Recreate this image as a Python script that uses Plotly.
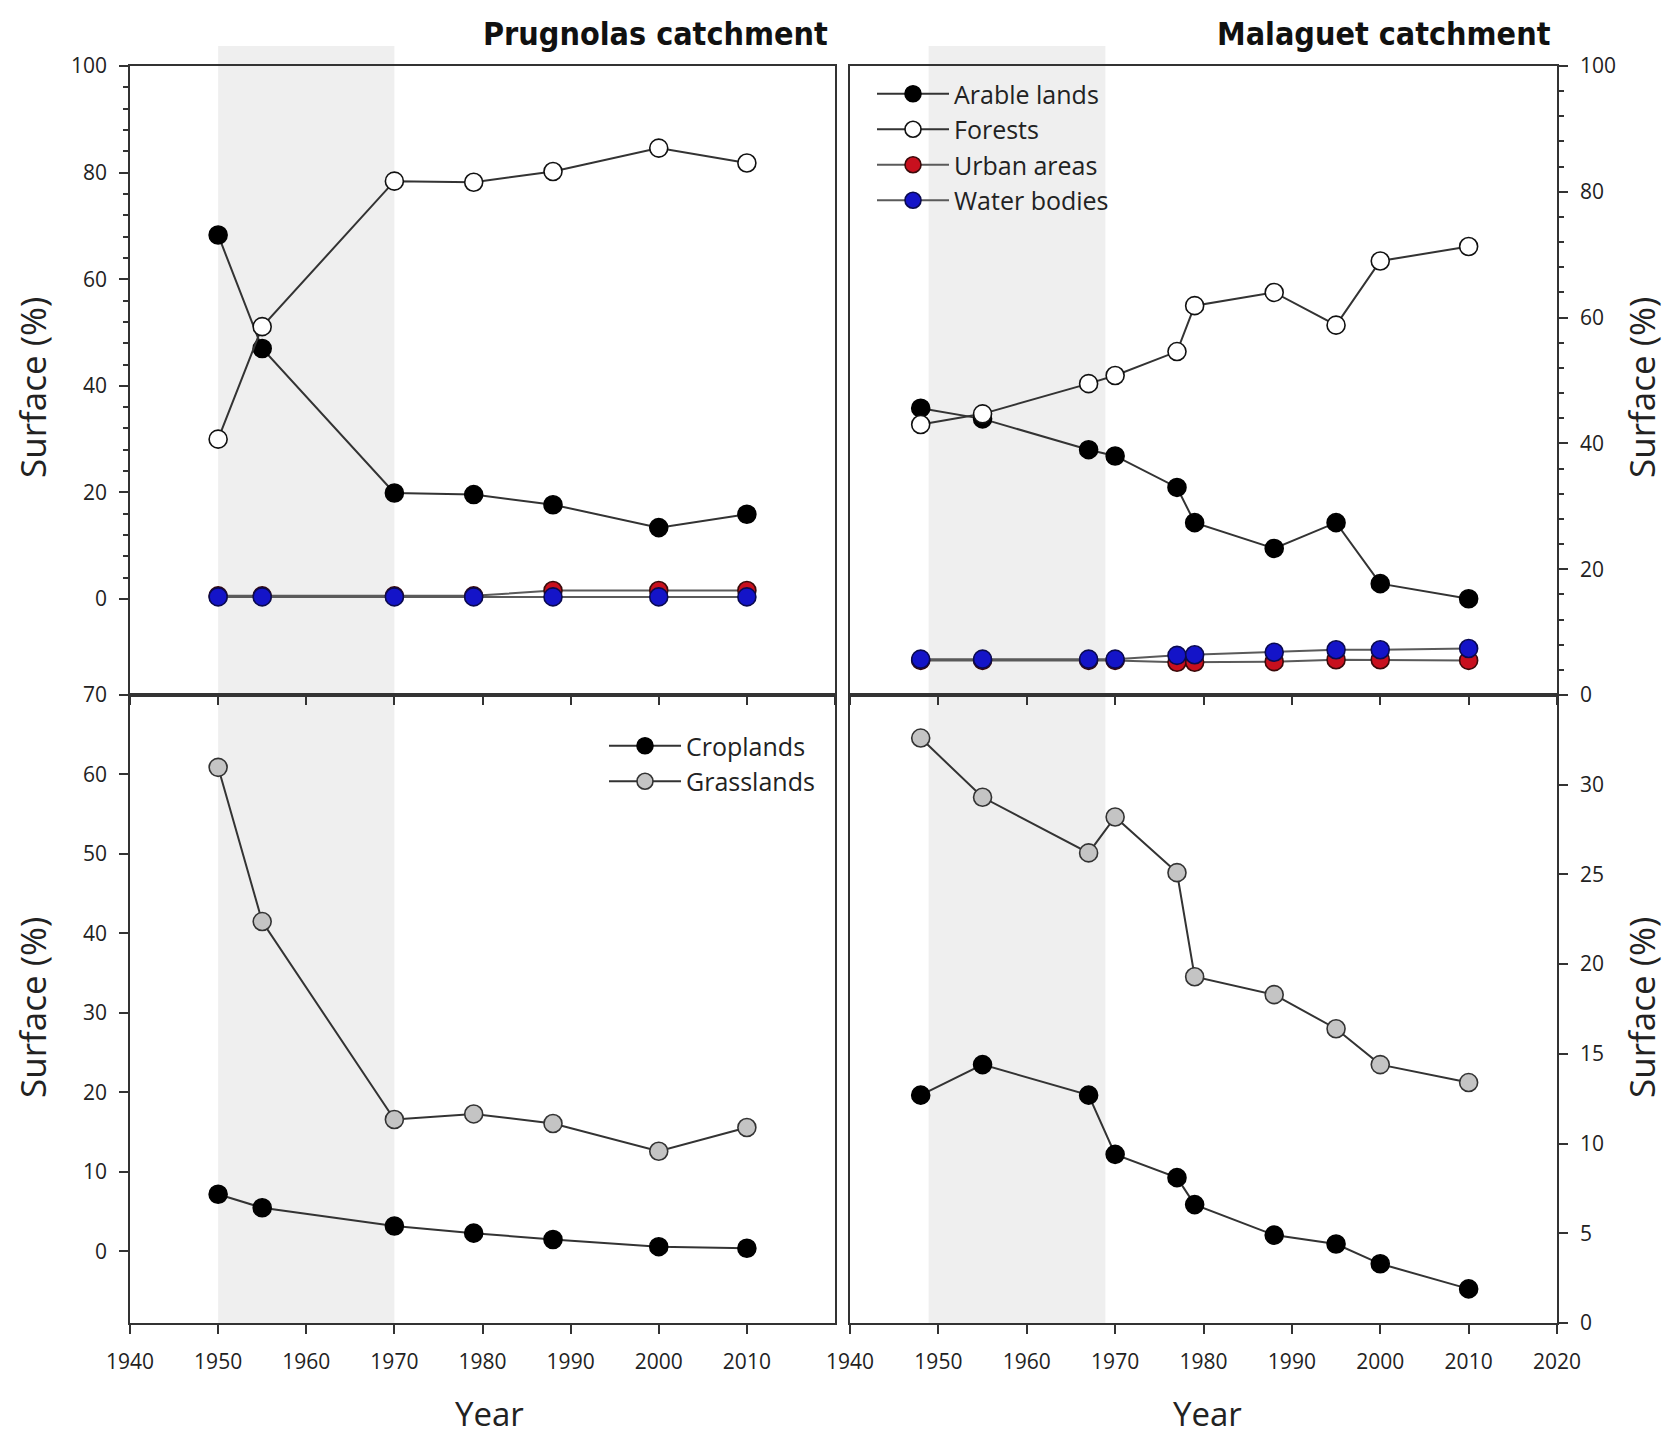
import plotly.graph_objects as go

# ---------------- data ----------------
years_p = [1950, 1955, 1970, 1979, 1988, 2000, 2010]
arable_p = [68.3, 47.0, 19.9, 19.6, 17.7, 13.4, 15.9]
forest_p = [30.0, 51.1, 78.4, 78.2, 80.2, 84.6, 81.8]
urban_p = [0.6, 0.6, 0.6, 0.6, 1.6, 1.6, 1.6]
water_p = [0.4, 0.4, 0.4, 0.4, 0.4, 0.4, 0.4]
crop_p = [7.2, 5.5, 3.2, 2.3, 1.5, 0.6, 0.4]
grass_p = [60.9, 41.5, 16.6, 17.3, 16.1, 12.6, 15.6]

years_m = [1948, 1955, 1967, 1970, 1977, 1979, 1988, 1995, 2000, 2010]
arable_m = [45.6, 43.9, 39.0, 38.0, 33.0, 27.4, 23.3, 27.4, 17.7, 15.3]
forest_m = [43.0, 44.7, 49.5, 50.8, 54.6, 61.9, 64.0, 58.8, 69.0, 71.3]
urban_m = [5.5, 5.5, 5.5, 5.5, 5.2, 5.2, 5.3, 5.6, 5.6, 5.5]
water_m = [5.7, 5.7, 5.7, 5.7, 6.3, 6.4, 6.8, 7.2, 7.2, 7.4]
crop_m = [12.7, 14.4, 12.7, 9.4, 8.1, 6.6, 4.9, 4.4, 3.3, 1.9]
grass_m = [32.6, 29.3, 26.2, 28.2, 25.1, 19.3, 18.3, 16.4, 14.4, 13.4]

x_ticks = [1940, 1950, 1960, 1970, 1980, 1990, 2000, 2010, 2020]
top_ticks = [0, 20, 40, 60, 80, 100]
minor_top = list(range(0, 101, 4))
bl_ticks = [0, 10, 20, 30, 40, 50, 60, 70]
br_ticks = [0, 5, 10, 15, 20, 25, 30]
shade_p = (1950, 1970)
shade_m = (1948.9, 1968.9)

# ---------------- layout geometry ----------------
W, H = 1671, 1444
XL = [130 / W, 835 / W]
XR = [850 / W, 1557 / W]
YT = [1 - 695 / H, 1 - 66 / H]
YB = [1 - 1323 / H, 1 - 695 / H]

FONT = "Open Sans, Noto Sans, DejaVu Sans, sans-serif"
TFONT = "DejaVu Sans Condensed, Liberation Sans Narrow, sans-serif"
LINE = "#333333"

fig = go.Figure()


def add(x, y, xa, ya, name, fill, outline, legend=None, show=False, lc=LINE):
    fig.add_trace(go.Scatter(
        x=x, y=y, mode="lines+markers", name=name,
        line=dict(color=lc, width=2),
        marker=dict(size=18, color=fill, line=dict(color=outline, width=1.6)),
        xaxis=xa, yaxis=ya, showlegend=show,
        legend=legend if legend else "legend",
        hoverinfo="x+y+name",
    ))


# top-left
add(years_p, arable_p, "x", "y", "Arable lands", "#000000", "#000000")
add(years_p, forest_p, "x", "y", "Forests", "#ffffff", "#111111")
add(years_p, urban_p, "x", "y", "Urban areas", "#c8101e", "#3a0a0a", lc="#5a5a5a")
add(years_p, water_p, "x", "y", "Water bodies", "#1414c8", "#0a0a50", lc="#5a5a5a")
# top-right (legend)
add(years_m, arable_m, "x2", "y2", "Arable lands", "#000000", "#000000", "legend", True)
add(years_m, forest_m, "x2", "y2", "Forests", "#ffffff", "#111111", "legend", True)
add(years_m, urban_m, "x2", "y2", "Urban areas", "#c8101e", "#3a0a0a", "legend", True, lc="#5a5a5a")
add(years_m, water_m, "x2", "y2", "Water bodies", "#1414c8", "#0a0a50", "legend", True, lc="#5a5a5a")
# bottom-left (legend2)
add(years_p, crop_p, "x3", "y3", "Croplands", "#000000", "#000000", "legend2", True)
add(years_p, grass_p, "x3", "y3", "Grasslands", "#c4c4c4", "#333333", "legend2", True)
# bottom-right
add(years_m, crop_m, "x4", "y4", "Croplands", "#000000", "#000000")
add(years_m, grass_m, "x4", "y4", "Grasslands", "#c4c4c4", "#333333")

axis_common = dict(
    showline=True, linecolor="#333333", linewidth=1.5, mirror=True,
    ticks="outside", tickcolor="#333333", tickwidth=1.5, ticklen=9,
    showgrid=False, zeroline=False, automargin=False,
    tickfont=dict(family=FONT, size=21, color="#222222"),
    tickmode="array", fixedrange=True,
)
minor_out = dict(tickmode="array", tickvals=minor_top, ticks="outside",
                 ticklen=5, tickcolor="#333333", tickwidth=1.5)
minor_in = dict(tickmode="array", tickvals=minor_top, ticks="inside",
                ticklen=5, tickcolor="#333333", tickwidth=1.5)

fig.update_layout(
    width=W, height=H,
    margin=dict(l=0, r=0, t=0, b=0, autoexpand=False),
    paper_bgcolor="white", plot_bgcolor="rgba(0,0,0,0)",
    xaxis=dict(axis_common, domain=XL, anchor="y", range=[1940, 2020],
               tickvals=x_ticks, showticklabels=False, ticklen=8),
    yaxis=dict(axis_common, domain=YT, anchor="x", range=[-18, 100],
               tickvals=top_ticks, ticklabelstandoff=8, minor=minor_out),
    yaxis5=dict(overlaying="y", anchor="x", range=[-18, 100], showline=False,
                showgrid=False, zeroline=False, ticks="", showticklabels=False,
                automargin=False, minor=minor_in, fixedrange=True),
    xaxis2=dict(axis_common, domain=XR, anchor="y2", range=[1940, 2020],
                tickvals=x_ticks, showticklabels=False, ticklen=8),
    yaxis2=dict(axis_common, domain=YT, anchor="x2", side="right", range=[0, 100],
                tickvals=top_ticks, ticklabelstandoff=8, minor=minor_out),
    yaxis6=dict(overlaying="y2", anchor="x2", side="right", range=[0, 100],
                showline=False, showgrid=False, zeroline=False, ticks="",
                showticklabels=False, automargin=False, minor=minor_in, fixedrange=True),
    xaxis3=dict(axis_common, domain=XL, anchor="y3", range=[1940, 2020],
                tickvals=x_ticks[:-1], ticklabelstandoff=10),
    yaxis3=dict(axis_common, domain=YB, anchor="x3", range=[-9, 70],
                tickvals=bl_ticks, ticklabelstandoff=8),
    xaxis4=dict(axis_common, domain=XR, anchor="y4", range=[1940, 2020],
                tickvals=x_ticks, ticklabelstandoff=10),
    yaxis4=dict(axis_common, domain=YB, anchor="x4", side="right", range=[0, 35],
                tickvals=br_ticks, ticklabelstandoff=8),
    legend=dict(x=872 / W, y=1 - 71 / H, xanchor="left", yanchor="top",
                bgcolor="rgba(0,0,0,0)", itemwidth=72,
                font=dict(family=FONT, size=25, color="#222222"),
                tracegroupgap=0),
    legend2=dict(x=604 / W, y=1 - 723 / H, xanchor="left", yanchor="top",
                 bgcolor="rgba(0,0,0,0)", itemwidth=72,
                 font=dict(family=FONT, size=25, color="#222222"),
                 tracegroupgap=0),
    showlegend=True,
)

top_extra = 20 / H
fig.add_shape(type="rect", xref="x", yref="paper", x0=shade_p[0], x1=shade_p[1],
              y0=YB[0], y1=YT[1] + top_extra, fillcolor="#efefef",
              line=dict(width=0), layer="below")
fig.add_shape(type="rect", xref="x2", yref="paper", x0=shade_m[0], x1=shade_m[1],
              y0=YB[0], y1=YT[1] + top_extra, fillcolor="#efefef",
              line=dict(width=0), layer="below")

ann = []
ann.append(dict(text="<b>Prugnolas catchment</b>", x=830 / W, y=1 - 34 / H,
                xref="paper", yref="paper", xanchor="right", yanchor="middle",
                showarrow=False, font=dict(family=TFONT, size=32, color="#111111")))
ann.append(dict(text="<b>Malaguet catchment</b>", x=1553 / W, y=1 - 34 / H,
                xref="paper", yref="paper", xanchor="right", yanchor="middle",
                showarrow=False, font=dict(family=TFONT, size=32, color="#111111")))
for xx, yy in [(32, 388), (32, 1008), (1641, 388), (1641, 1008)]:
    ann.append(dict(text="Surface (%)", x=xx / W, y=1 - yy / H, xref="paper", yref="paper",
                    xanchor="center", yanchor="middle", textangle=-90, showarrow=False,
                    font=dict(family=FONT, size=35, color="#222222")))
for xx in [490, 1207]:
    ann.append(dict(text="Year", x=xx / W, y=1 - 1413 / H, xref="paper", yref="paper",
                    xanchor="center", yanchor="middle", showarrow=False,
                    font=dict(family=FONT, size=33, color="#222222")))
fig.update_layout(annotations=ann)

fig.write_html("out.html")
